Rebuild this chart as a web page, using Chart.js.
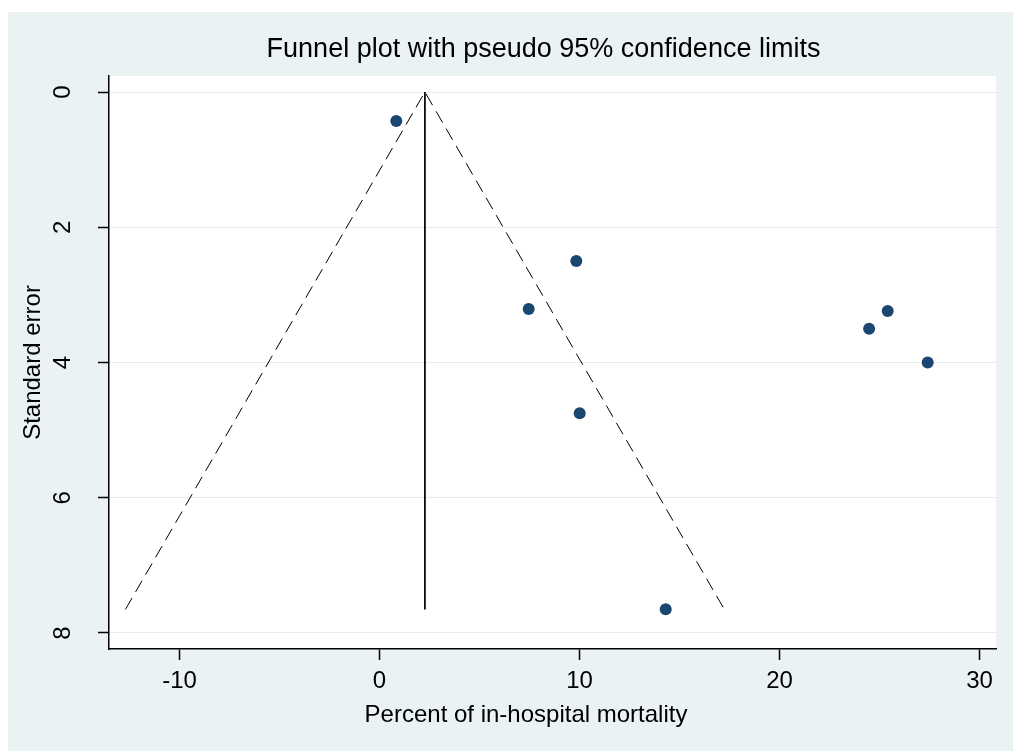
<!DOCTYPE html>
<html>
<head>
<meta charset="utf-8">
<script src="https://cdn.jsdelivr.net/npm/chart.js@4.4.0/dist/chart.umd.min.js"></script>
<style>
  html, body { margin: 0; padding: 0; background: #ffffff; }
  #wrap { width: 1013px; height: 753px; }
</style>
</head>
<body>
<div id="wrap"><canvas id="c" width="1013" height="753"></canvas></div>
<script>
// ---- data ----
const studyEffect = [0.84, 9.84, 7.46, 10.01, 14.31, 24.48, 25.41, 27.41];
const studySE     = [0.43, 2.50, 3.21, 4.75, 7.65, 3.50, 3.24, 4.00];
const funnelEffect = [-12.70, 2.27, 17.24];
const funnelSE     = [7.65, 0, 7.65];
const pooledEffect = [2.27, 2.27];
const pooledSE     = [0, 7.65];
const xTickValues = [-10, 0, 10, 20, 30];
const yTickValues = [0, 2, 4, 6, 8];
const titleText = 'Funnel plot with pseudo 95% confidence limits';
const xTitle = 'Percent of in-hospital mortality';
const yTitle = 'Standard error';

const FONT = '"Liberation Sans", Arial, sans-serif';
const toPts = (xs, ys) => xs.map((x, i) => ({ x: x, y: ys[i] }));

Chart.defaults.font.family = FONT;
Chart.defaults.color = '#000000';

const bgPlugin = {
  id: 'bgPlugin',
  beforeDraw(chart) {
    const { ctx, chartArea } = chart;
    ctx.save();
    ctx.fillStyle = '#ffffff';
    ctx.fillRect(0, 0, chart.width, chart.height);
    ctx.fillStyle = '#eaf2f3';
    ctx.fillRect(8, 12, chart.width - 8, 739);
    ctx.fillStyle = '#ffffff';
    ctx.fillRect(chartArea.left, chartArea.top, chartArea.right - chartArea.left, chartArea.bottom - chartArea.top);
    ctx.restore();
  }
};

// Stata places the graph title and x-axis title off the plot-region centre
const textPlugin = {
  id: 'textPlugin',
  afterDraw(chart) {
    const ctx = chart.ctx;
    ctx.save();
    ctx.fillStyle = '#000000';
    ctx.textAlign = 'center';
    ctx.textBaseline = 'middle';
    ctx.font = '27px ' + FONT;
    ctx.fillText(titleText, 543.5, 49.5);
    ctx.font = '24px ' + FONT;
    ctx.fillText(xTitle, 526, 715);
    ctx.restore();
  }
};

new Chart(document.getElementById('c'), {
  type: 'scatter',
  data: {
    datasets: [
      {
        label: 'Studies',
        data: toPts(studyEffect, studySE),
        backgroundColor: '#1a476f',
        borderWidth: 0,
        pointRadius: 6,
        pointHoverRadius: 6
      },
      {
        label: 'Pseudo 95% CI',
        data: toPts(funnelEffect, funnelSE),
        showLine: true,
        borderColor: '#000000',
        borderWidth: 1,
        borderDash: [13, 7],
        pointRadius: 0,
        fill: false
      },
      {
        label: 'Pooled',
        data: toPts(pooledEffect, pooledSE),
        showLine: true,
        borderColor: '#000000',
        borderWidth: 1,
        pointRadius: 0,
        fill: false
      }
    ]
  },
  options: {
    responsive: false,
    animation: false,
    events: [],
    layout: { padding: { left: 8, top: 76, right: 17, bottom: 0 } },
    plugins: {
      legend: { display: false },
      tooltip: { enabled: false },
      title: { display: false }
    },
    scales: {
      x: {
        type: 'linear',
        position: 'bottom',
        min: -13.525,
        max: 30.825,
        afterBuildTicks(scale) { scale.ticks = xTickValues.map(v => ({ value: v })); },
        afterFit(scale) { scale.height = 104; },
        grid: {
          drawOnChartArea: false,
          drawTicks: true,
          tickLength: 11,
          tickColor: '#000000',
          tickWidth: 1.5
        },
        border: { display: true, color: '#000000', width: 1.5 },
        ticks: {
          color: '#000000',
          font: { size: 24, lineHeight: 1.2 },
          padding: 7,
          maxRotation: 0,
          minRotation: 0,
          autoSkip: false
        },
        title: { display: false }
      },
      y: {
        type: 'linear',
        position: 'left',
        reverse: true,
        min: -0.2366,
        max: 8.2366,
        afterBuildTicks(scale) { scale.ticks = yTickValues.map(v => ({ value: v })); },
        afterFit(scale) { scale.width = 101; },
        grid: {
          drawOnChartArea: true,
          color: '#e4eced',
          lineWidth: 1,
          drawTicks: true,
          tickLength: 11,
          tickColor: '#000000',
          tickWidth: 1.5
        },
        border: { display: true, color: '#000000', width: 1.5 },
        ticks: {
          color: '#000000',
          font: { size: 24, lineHeight: 1.2 },
          padding: 28.3,
          minRotation: 90,
          maxRotation: 90,
          crossAlign: 'center',
          autoSkip: false
        },
        title: {
          display: true,
          text: yTitle,
          color: '#000000',
          font: { size: 24, lineHeight: 1.2 },
          padding: { top: 10.6, bottom: 0 }
        }
      }
    }
  },
  plugins: [bgPlugin, textPlugin]
});
</script>
</body>
</html>
